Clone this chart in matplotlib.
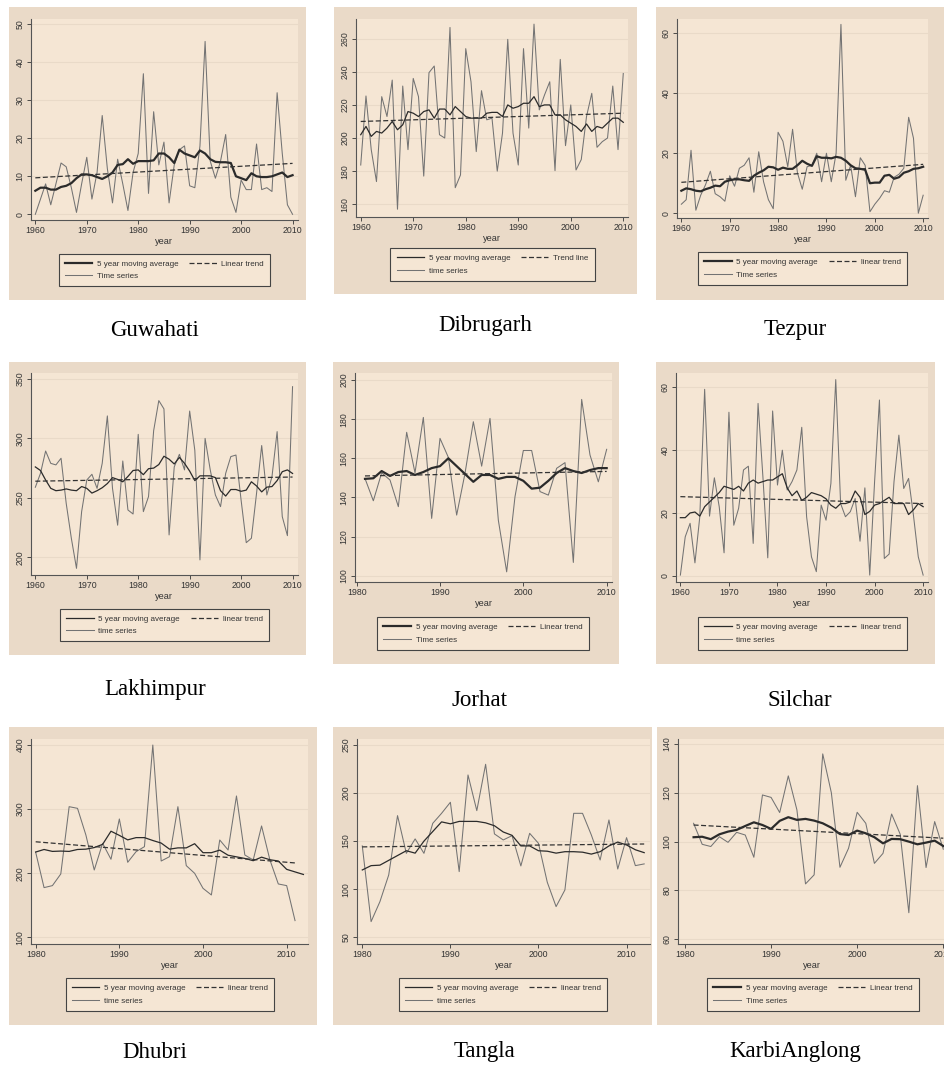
import matplotlib.pyplot as plt
import numpy as np
from matplotlib.patches import Rectangle

W, H = 945, 1069

# ---- data ----
years_1960 = np.arange(1960, 2011)
years_1980 = np.arange(1980, 2012)
years_1980_ma = np.arange(1980, 2013)
years_1981 = np.arange(1981, 2011)

guwahati_ts = [0, 4, 8, 2.5, 8, 13.5, 12.5, 7, 0.5, 8,
               15, 4, 11, 26, 12, 3, 14.5, 8, 1, 11,
               16, 37, 5.5, 27, 13, 19, 3, 13, 17, 18,
               7.5, 7, 18, 45.5, 14, 9.5, 14, 21, 4.5, 0.5,
               9, 6.5, 6.5, 18.5, 6.5, 7, 6, 32, 16, 2.5, 0]
guwahati_ma = [6.2, 7, 7, 6.5, 6.5, 7.2, 7.5, 8.2, 9.5, 10.5,
               10.5, 10.3, 9.8, 9.3, 10, 11, 13, 13.2, 14.5, 13.3,
               14, 14, 14, 14.2, 16, 16, 15, 13.5, 17, 16,
               15.5, 15, 16.8, 16, 14.5, 13.8, 13.7, 13.7, 13.5, 10,
               9.5, 9, 10.8, 10, 9.8, 9.8, 10, 10.5, 11, 9.8, 10.3]
guwahati_trend = [9.6, 13.4]

dibrugarh_ts = [183.7, 225.4, 193, 173.7, 225, 213, 235, 157, 231.4, 193,
                236, 225, 177, 239.5, 243.5, 202, 200, 266.8, 170, 177.7,
                254, 234, 191.8, 228.6, 211, 212, 180, 203, 259.6, 203,
                183.7, 254, 206, 268.8, 217, 226, 234, 180.3, 247.5, 195.4,
                220, 180.7, 187, 213, 227, 194.4, 197.8, 200, 231.4, 193, 239]
dibrugarh_ma = [202, 207, 201, 204, 203, 206, 210, 205, 208, 216,
                215, 213, 216, 217, 212, 217.5, 217.5, 214, 219, 216,
                213, 212, 212, 212, 215, 215.5, 215.5, 213, 220, 218,
                219, 221, 221, 225, 219, 220, 220, 214, 214, 211,
                209, 207, 204, 208.5, 204, 207, 206, 209, 212, 212, 209.5]
dibrugarh_trend = [210, 215]

tezpur_ts = [3, 4.5, 21, 1, 6, 9.5, 14, 6.5, 5.5, 4,
             12.5, 9, 15, 16, 18.5, 7, 20.5, 10.5, 4.5, 1.5,
             27, 24, 15.5, 28, 13.5, 8, 15.5, 16, 20, 10.5,
             20, 10.5, 20, 63, 11, 16, 5.5, 18.5, 16, 0.5,
             3, 5, 7.5, 7, 12, 13, 15, 32, 25, 0, 6]
tezpur_ma = [7.5, 8.3, 8, 7.5, 7.3, 8, 8.5, 9.2, 9, 10.5,
             11, 11.3, 11.3, 11, 10.8, 12.5, 13.5, 14.3, 15.5, 15.3,
             14.5, 15.2, 14.8, 14.8, 16, 17.5, 16.5, 15.8, 19, 18.5,
             18.5, 18.3, 18.8, 18.5, 17.5, 16, 15, 14.8, 14.5, 10,
             10.2, 10.2, 12.5, 12.8, 11.5, 12, 13.5, 14, 14.8, 15, 15.5]
tezpur_trend = [10.3, 16.3]

lakhimpur_ts = [258.9, 270.6, 289.4, 279, 277.7, 283.3, 245.4, 216, 190.7, 238.4,
                265, 269.8, 258, 279, 318.9, 258, 227, 281, 239.8, 236.4,
                303.4, 238.4, 251, 306.5, 331.8, 324.8, 218.8, 276, 286.6, 273.5,
                323, 290, 197.8, 300, 273.5, 252.4, 242.6, 270.6, 284.7, 286,
                248, 212.3, 216, 253.8, 294, 252.4, 267.8, 305.7, 234.2, 218.2, 343.5]
lakhimpur_ma = [276, 273, 265, 258, 256, 256.5, 257.5, 256.5, 256, 259.5,
                258, 254, 256, 258.5, 262, 267, 265.5, 263.5, 268, 273,
                273.5, 269.5, 274.5, 275, 278, 285, 282.5, 278.5, 284, 279,
                272.5, 264.5, 268.5, 268.5, 268.5, 267, 256, 251.5, 257, 257,
                255.5, 256.5, 263.5, 260, 255, 259, 259.5, 264.5, 272, 273.5, 270.5]
lakhimpur_trend = [264, 267.5]

jorhat_ts = [149.7, 138.3, 152.6, 148.9, 135.3, 173.3, 152.6, 180.9, 129.3, 170.2,
             160.5, 131, 152.3, 178.7, 156, 180.4, 128.4, 102, 140.4, 164,
             164, 143, 141.2, 154.9, 157.8, 106.8, 190.1, 161.7, 148, 164.6]
jorhat_ma = [149.5, 149.8, 153.5, 151, 153, 153.5, 151.5, 153, 155, 156,
             160, 156, 152, 148, 151.5, 151.5, 149.5, 150.5, 150.5, 148.5,
             144.5, 145, 148.5, 152.5, 155, 153.5, 152.5, 154, 155, 155]
jorhat_trend = [151, 153.3]

silchar_ts = [0.2, 12.4, 16.7, 4.1, 18.8, 59.4, 19, 31.2, 22, 7.3,
              52.1, 16.1, 21.5, 33.7, 34.9, 10.3, 54.9, 31.5, 5.7, 52.5,
              28.9, 40, 27.3, 30, 33.7, 47.3, 18.8, 6, 1.3, 22.5,
              17.7, 29.4, 62.5, 23, 18.8, 20.4, 24.6, 11, 28, 0.2,
              30, 56, 5.5, 6.9, 30, 44.8, 27.8, 31, 19.3, 6, 0.2]
silchar_ma = [18.5, 18.5, 20, 20.3, 19, 22, 23.5, 25, 26.5, 28.5,
              28, 27.5, 28.5, 27, 29.5, 30.5, 29.5, 30, 30.5, 30.5,
              31.5, 32.5, 28, 25.5, 27, 24, 25, 26.5, 26, 25.5,
              24.5, 22.5, 21.5, 23, 23, 23.5, 27, 25, 19.5, 20.5,
              22.5, 23, 24, 25, 23, 23, 23, 19.5, 21, 23, 22]
silchar_trend = [25.2, 23]

dhubri_ts = [232.6, 177.5, 180.6, 198.8, 303.8, 301.2, 259.6, 205, 246.6, 221.7,
             284.6, 217, 233.6, 241.4, 400, 219, 225.8, 303.8, 211.8, 199.8,
             176.4, 166, 251.8, 236.2, 320.5, 228.4, 220.6, 273.7, 220.6, 183.2,
             180.6, 126]
dhubri_ma = [233, 237, 234, 234.5, 234, 237, 237.5, 240, 245, 265.5,
             259, 252, 255.5, 255.5, 251, 247, 237.5, 239.5, 239.5, 246,
             232, 232, 236, 228, 225.5, 223, 219.5, 225, 221, 219,
             206, 202, 198]
dhubri_trend = [249, 216]

tangla_ts = [145, 66.3, 87, 114.8, 176.5, 137.3, 152.3, 137.3, 168.5, 178.9,
             190.4, 118.3, 218.8, 181.7, 229.9, 157.5, 151.2, 155.7, 124.2, 158.1,
             147.7, 107.2, 81.9, 99.2, 178.9, 178.9, 156.4, 130.4, 172, 121,
             153.6, 124.5, 126.3]
tangla_ma = [120, 124.5, 125, 130, 135, 140, 137.5, 150, 160, 170,
             168, 170.5, 170.5, 170.5, 169, 166, 159.5, 156, 145, 145,
             140, 139.5, 137.5, 139, 139, 138.5, 136.5, 139, 145, 149,
             146, 141, 138]
tangla_trend = [144, 147]

karbi_ts = [107.5, 98.9, 98, 102, 99.7, 103.8, 102.7, 93.6, 119.1, 118.1,
            111.9, 126.9, 113, 82.7, 86.4, 135.9, 120, 89.5, 97.3, 112,
            107.5, 91.1, 95.2, 111.3, 103, 70.9, 122.9, 89.4, 108.2, 96.9]
karbi_ma = [101.8, 102, 101, 103, 104.1, 104.8, 106.4, 107.9, 106.8, 105.2,
            108.5, 110, 108.9, 109.3, 108.6, 107.5, 105.7, 103.1, 102.7, 104.5,
            103.4, 101.8, 99.3, 101.1, 101, 100, 98.9, 99.6, 100.4, 98.2]
karbi_trend = [106.8, 101.4]

names = ['Guwahati', 'Dibrugarh', 'Tezpur', 'Lakhimpur', 'Jorhat', 'Silchar',
         'Dhubri', 'Tangla', 'KarbiAnglong']

FRAME = '#eadac8'
PLOT = '#f5e6d4'
GRID = '#e9dac8'
INK = '#333333'

panels = [
    dict(ts=(years_1960, guwahati_ts), ma=(years_1960, guwahati_ma), tr=([1960, 2010], guwahati_trend),
         labels=['5 year moving average', 'Time series', 'Linear trend'], thick=True,
         ax=(30.7, 19, 297.7, 220), xlim=(1959.1, 2011), ylim=(-1.5, 51.4),
         xt=[1960, 1970, 1980, 1990, 2000, 2010], yt=[0, 10, 20, 30, 40, 50],
         frame=(9, 7, 306, 300), leg=(164.5, 270), lab=(155, 330)),
    dict(ts=(years_1960, dibrugarh_ts), ma=(years_1960, dibrugarh_ma), tr=([1960, 2010], dibrugarh_trend),
         labels=['5 year moving average', 'time series', 'Trend line'], thick=False,
         ax=(356, 19, 628, 217), xlim=(1959.1, 2010.9), ylim=(152.3, 271.9),
         xt=[1960, 1970, 1980, 1990, 2000, 2010], yt=[160, 180, 200, 220, 240, 260],
         frame=(334, 7, 637, 294), leg=(492.5, 264.5), lab=(485, 325)),
    dict(ts=(years_1960, tezpur_ts), ma=(years_1960, tezpur_ma), tr=([1960, 2010], tezpur_trend),
         labels=['5 year moving average', 'Time series', 'linear trend'], thick=True,
         ax=(677, 19, 928, 218), xlim=(1959.1, 2011), ylim=(-1.6, 64.8),
         xt=[1960, 1970, 1980, 1990, 2000, 2010], yt=[0, 20, 40, 60],
         frame=(656, 7, 944, 300), leg=(802.5, 268.5), lab=(795, 330)),
    dict(ts=(years_1960, lakhimpur_ts), ma=(years_1960, lakhimpur_ma), tr=([1960, 2010], lakhimpur_trend),
         labels=['5 year moving average', 'time series', 'linear trend'], thick=False,
         ax=(30.7, 373, 297.7, 575), xlim=(1959.1, 2011), ylim=(185.1, 355),
         xt=[1960, 1970, 1980, 1990, 2000, 2010], yt=[200, 250, 300, 350],
         frame=(9, 362, 306, 655), leg=(164.5, 625), lab=(155, 690)),
    dict(ts=(years_1981, jorhat_ts), ma=(years_1981, jorhat_ma), tr=([1981, 2010], jorhat_trend),
         labels=['5 year moving average', 'Time series', 'Linear trend'], thick=True,
         ax=(355, 373, 612, 582), xlim=(1979.8, 2010.64), ylim=(96.8, 203.6),
         xt=[1980, 1990, 2000, 2010], yt=[100, 120, 140, 160, 180, 200],
         frame=(333, 362, 619, 664), leg=(483, 633.5), lab=(480, 700)),
    dict(ts=(years_1960, silchar_ts), ma=(years_1960, silchar_ma), tr=([1960, 2010], silchar_trend),
         labels=['5 year moving average', 'time series', 'linear trend'], thick=False,
         ax=(676, 373, 928, 582), xlim=(1959.1, 2011), ylim=(-2.0, 64.6),
         xt=[1960, 1970, 1980, 1990, 2000, 2010], yt=[0, 20, 40, 60],
         frame=(656, 362, 935, 664), leg=(802.5, 633.5), lab=(800, 700)),
    dict(ts=(years_1980, dhubri_ts), ma=(years_1980_ma, dhubri_ma), tr=([1980, 2011], dhubri_trend),
         labels=['5 year moving average', 'time series', 'linear trend'], thick=False,
         ax=(31, 739, 308, 944), xlim=(1979.44, 2012.55), ylim=(89.5, 409.4),
         xt=[1980, 1990, 2000, 2010], yt=[100, 200, 300, 400],
         frame=(9, 727, 317, 1025), leg=(170, 994.5), lab=(155, 1052)),
    dict(ts=(years_1980_ma, tangla_ts), ma=(years_1980_ma, tangla_ma), tr=([1980, 2012], tangla_trend),
         labels=['5 year moving average', 'time series', 'linear trend'], thick=False,
         ax=(357, 739, 650, 944), xlim=(1979.4, 2012.66), ylim=(43, 256.2),
         xt=[1980, 1990, 2000, 2010], yt=[50, 100, 150, 200, 250],
         frame=(333, 727, 652, 1025), leg=(503, 994.5), lab=(485, 1052)),
    dict(ts=(years_1981, karbi_ts), ma=(years_1981, karbi_ma), tr=([1981, 2010], karbi_trend),
         labels=['5 year moving average', 'Time series', 'Linear trend'], thick=True,
         ax=(678, 739, 945, 944), xlim=(1979.19, 2010.2), ylim=(58.1, 142),
         xt=[1980, 1990, 2000, 2010], yt=[60, 80, 100, 120, 140],
         frame=(657, 727, 945, 1025), leg=(813, 994.5), lab=(795, 1052)),
]

plt.rcParams['font.family'] = ['Liberation Sans', 'DejaVu Sans']

fig = plt.figure(figsize=(W / 100, H / 100), dpi=100)
fig.patch.set_facecolor('white')


def box(l, t, r, b):
    return [l / W, 1 - b / H, (r - l) / W, (b - t) / H]


for name, p in zip(names, panels):
    l, t, r, b = p['frame']
    fig.add_artist(Rectangle((l / W, 1 - b / H), (r - l) / W, (b - t) / H,
                             transform=fig.transFigure, facecolor=FRAME,
                             edgecolor='none', zorder=-1))

    ax = fig.add_axes(box(*p['ax']))
    ax.set_facecolor(PLOT)
    for s in ['top', 'right']:
        ax.spines[s].set_visible(False)
    for s in ['left', 'bottom']:
        ax.spines[s].set_color('#555555')
        ax.spines[s].set_linewidth(0.8)

    ma_lw = 1.6 if p['thick'] else 0.9
    l_ts, = ax.plot(p['ts'][0], p['ts'][1], color='#737373', lw=0.75)
    l_ma, = ax.plot(p['ma'][0], p['ma'][1], color='#2b2b2b', lw=ma_lw)
    l_tr, = ax.plot(p['tr'][0], p['tr'][1], color='#333333', lw=0.9,
                    linestyle=(0, (4, 2)))

    ax.set_xlim(*p['xlim'])
    ax.set_ylim(*p['ylim'])
    ax.set_xticks(p['xt'])
    ax.set_yticks(p['yt'])
    ax.yaxis.grid(True, color=GRID, lw=0.8)
    ax.set_axisbelow(True)
    ax.tick_params(axis='both', length=3, width=0.6, colors=INK,
                   labelsize=6.3, pad=1.5)
    ax.tick_params(axis='y', labelrotation=90)
    for lbl in ax.get_yticklabels():
        lbl.set_va('center')
    ax.set_xlabel('year', fontsize=6.6, color=INK, labelpad=1)

    leg = ax.legend([l_ma, l_ts, l_tr], p['labels'], ncol=2, loc='center',
                    bbox_to_anchor=(p['leg'][0] / W, 1 - p['leg'][1] / H),
                    bbox_transform=fig.transFigure, fontsize=5.8,
                    handlelength=3.4, handletextpad=0.6, columnspacing=1.3,
                    labelspacing=0.6, borderpad=0.75, fancybox=False,
                    framealpha=1, facecolor=PLOT, edgecolor='#444444')
    leg.get_frame().set_linewidth(0.8)
    for txt in leg.get_texts():
        txt.set_color(INK)

    fig.text(p['lab'][0] / W, 1 - p['lab'][1] / H, name, ha='center',
             va='center', fontsize=16.5, family='Liberation Serif', color='black')

fig.savefig('out.png', dpi=100)
